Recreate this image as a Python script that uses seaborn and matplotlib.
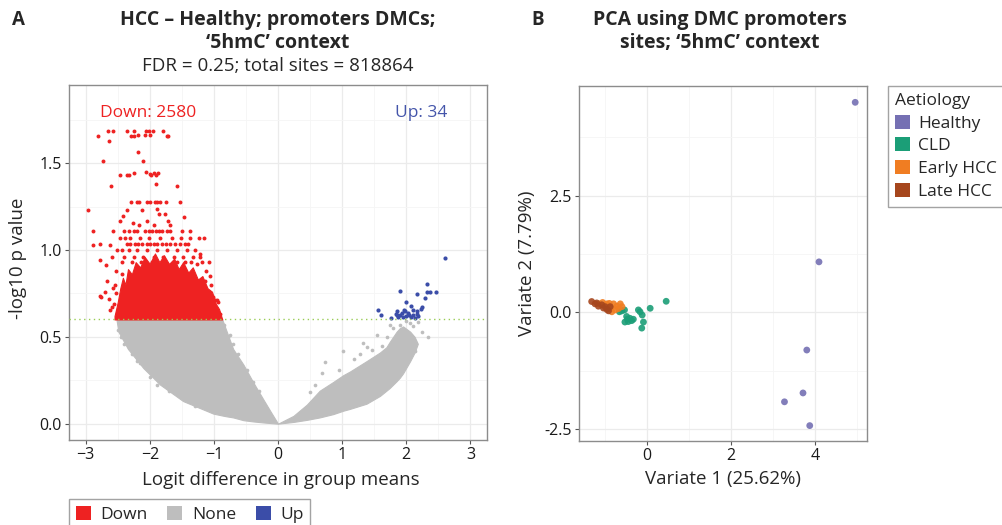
import numpy as np
import pandas as pd
import matplotlib
matplotlib.use("Agg")
import matplotlib.pyplot as plt
from matplotlib.patches import Patch
from matplotlib.ticker import MultipleLocator
import seaborn as sns

sns.set_theme(style="white")
plt.rcParams['font.family'] = ['Open Sans', 'DejaVu Sans']

# ---------------- volcano (A) ----------------
fdr_cut = 0.6  # -log10 p threshold line

# grey cloud (non significant sites), read as envelopes
none_left_x = [-2.52, -2.49, -2.34, -2.10, -1.84, -1.48, -1.01, -0.87, -0.80, -0.70, -0.54, -0.39, -0.23, -0.10, 0.0]
none_left_lo = [0.60, 0.53, 0.43, 0.32, 0.225, 0.13, 0.058, 0.047, 0.042, 0.036, 0.02, 0.013, 0.007, 0.003, 0.0]
none_left_hi = [0.60, 0.60, 0.60, 0.60, 0.60, 0.60, 0.60, 0.60, 0.53, 0.43, 0.34, 0.24, 0.14, 0.06, 0.0]

none_right_x = [0.0, 0.24, 0.45, 0.65, 0.86, 1.02, 1.12, 1.38, 1.59, 1.69, 1.74, 1.85, 1.90, 1.95, 2.06, 2.13, 2.18]
none_right_lo = [0.0, 0.01, 0.022, 0.036, 0.055, 0.075, 0.085, 0.115, 0.16, 0.19, 0.205, 0.245, 0.265, 0.29, 0.36, 0.41, 0.46]
none_right_hi = [0.0, 0.045, 0.11, 0.19, 0.24, 0.28, 0.30, 0.36, 0.41, 0.44, 0.47, 0.53, 0.55, 0.56, 0.53, 0.50, 0.46]

# scattered grey sites around the edges of the cloud
none_x = [1.80, 1.90, 2.19, 2.34, 2.24, 2.06, 1.74, 1.33, 1.38, 1.46, 1.54, 0.73, 0.68, 1.02, 2.13,
          1.62, 1.70, 2.00, 2.10, 1.96, 1.28, 1.18, 0.95, 0.58, 0.50,
          -2.33, -2.49, -2.15, -1.89, -0.75, -0.70, -0.39,
          -2.45, -2.40, -2.28, -2.20, -2.00, -1.70, -1.30, -0.85, -0.78, -0.62, -0.48, -0.30]
none_y = [0.548, 0.567, 0.586, 0.50, 0.529, 0.577, 0.567, 0.466, 0.443, 0.424, 0.51, 0.356, 0.29, 0.42, 0.42,
          0.45, 0.50, 0.59, 0.56, 0.54, 0.40, 0.37, 0.31, 0.22, 0.18,
          0.44, 0.54, 0.347, 0.222, 0.51, 0.46, 0.24,
          0.50, 0.46, 0.40, 0.36, 0.27, 0.19, 0.10, 0.57, 0.50, 0.40, 0.31, 0.19]

# dense red core (Down)
down_core_x = [-2.55, -2.50, -2.46, -2.42, -2.38, -2.34, -2.28, -2.22, -2.15, -2.08, -2.00, -1.92, -1.85, -1.78,
               -1.70, -1.62, -1.55, -1.48, -1.40, -1.33, -1.25, -1.18, -1.10, -1.03, -0.97, -0.92, -0.87]
down_core_hi = [0.62, 0.70, 0.78, 0.84, 0.80, 0.89, 0.86, 0.93, 0.90, 0.96, 0.92, 0.98, 0.93, 0.97,
                0.92, 0.95, 0.89, 0.93, 0.87, 0.90, 0.83, 0.85, 0.78, 0.76, 0.69, 0.66, 0.60]

# sparse red points (Down)
down_x = [-2.81, -2.65, -2.57, -2.63, -2.36, -2.25, -2.29, -2.24, -2.18, -2.06, -2.02, -2.07, -2.00, -1.95, -1.80, -1.73, -1.71,
          -2.18, -2.10, -2.73,
          -2.46, -2.36, -2.32, -2.24, -2.06, -2.00, -1.98, -1.93, -1.87, -1.90,
          -2.60, -1.90, -1.58,
          -2.29, -2.20, -2.17, -2.04, -2.00, -1.92, -1.88, -1.84, -1.75, -1.53,
          -2.97, -2.42, -2.35, -2.12, -1.89, -1.86, -1.76, -1.46,
          -2.46, -2.26, -2.05, -1.71, -1.68, -1.94, -2.17,
          -2.89, -2.57, -2.41, -2.33, -2.25, -2.20, -2.07, -2.02, -1.97, -1.91, -1.86, -1.81, -1.73, -1.68, -1.50, -1.37,
          -2.88, -2.78, -2.62,
          -2.36, -2.31, -2.23, -2.18, -2.12, -2.05, -1.99, -1.94, -1.88, -1.81, -1.74, -1.68, -1.60, -1.53, -1.45, -1.40,
          -2.51, -2.43, -2.33, -2.20, -2.05, -1.89, -1.73, -1.58, -1.42, -1.29,
          -2.59, -2.41, -2.25, -2.10, -1.94, -1.79, -1.63, -1.48, -1.32, -1.21,
          -2.78, -2.68, -1.21, -1.27, -2.76, -2.63, -2.59, -0.95, -0.90,
          -2.77, -2.62, -2.49, -0.98, -0.93, -2.55, -2.52, -1.05, -1.12, -0.98, -2.50,
          -2.47, -2.39, -2.31, -2.15, -2.02, -1.84, -1.66, -1.52, -1.37, -1.24, -1.16,
          -2.44, -2.27, -2.13, -1.96, -1.77, -1.57, -1.45, -1.35, -1.19, -1.08,
          -2.53, -2.56, -2.44, -1.14, -1.06, -1.01, -0.94, -2.58, -2.66, -2.70]
down_y = [1.657, 1.684, 1.684, 1.630, 1.684, 1.684, 1.659, 1.659, 1.660, 1.684, 1.684, 1.660, 1.660, 1.684, 1.684, 1.657, 1.657,
          1.563, 1.515, 1.510,
          1.429, 1.429, 1.429, 1.445, 1.447, 1.440, 1.430, 1.445, 1.445, 1.430,
          1.370, 1.382, 1.370,
          1.276, 1.276, 1.276, 1.276, 1.276, 1.276, 1.276, 1.276, 1.276, 1.276,
          1.232, 1.194, 1.228, 1.232, 1.238, 1.209, 1.205, 1.190,
          1.167, 1.155, 1.167, 1.167, 1.142, 1.142, 1.142,
          1.107, 1.107, 1.107, 1.107, 1.107, 1.107, 1.107, 1.107, 1.107, 1.107, 1.107, 1.107, 1.107, 1.107, 1.107, 1.107,
          1.027, 1.037, 1.027,
          1.037, 1.037, 1.037, 1.037, 1.037, 1.037, 1.037, 1.037, 1.037, 1.037, 1.037, 1.037, 1.037, 1.037, 1.037, 1.037,
          0.998, 0.998, 0.998, 0.998, 0.998, 0.998, 0.998, 0.998, 0.998, 0.998,
          0.960, 0.960, 0.960, 0.960, 0.960, 0.960, 0.960, 0.960, 0.960, 0.960,
          0.940, 0.912, 0.979, 0.922, 0.730, 0.715, 0.672, 0.711, 0.634,
          0.736, 0.653, 0.620, 0.711, 0.644, 0.80, 0.88, 0.80, 0.88, 0.66, 0.65,
          1.07, 1.07, 1.07, 1.07, 1.07, 1.07, 1.07, 1.07, 1.07, 1.07, 1.07,
          0.93, 0.93, 0.93, 0.93, 0.93, 0.93, 0.93, 0.93, 0.93, 0.93,
          0.75, 0.69, 0.86, 0.82, 0.85, 0.73, 0.70, 0.78, 0.82, 0.76]

# blue points (Up)
up_x = [2.61, 2.32, 1.91, 2.33, 2.37, 2.46, 2.17, 2.29, 2.00, 2.07, 2.25, 2.23, 1.56, 1.60, 1.85, 1.84, 1.98,
        2.03, 2.11, 2.16, 1.90, 1.95, 2.08, 2.13, 1.76, 2.19, 1.87, 2.00, 2.11, 1.93, 2.05, 2.16, 1.85, 1.97]
up_y = [0.956, 0.807, 0.763, 0.757, 0.757, 0.757, 0.744, 0.721, 0.701, 0.677, 0.672, 0.659, 0.653, 0.626, 0.649, 0.634, 0.648,
        0.640, 0.653, 0.630, 0.625, 0.615, 0.615, 0.611, 0.609, 0.619, 0.615, 0.618, 0.625, 0.638, 0.627, 0.648, 0.624, 0.653]

n_down, n_up = 2580, 34

# ---------------- PCA (B) ----------------
healthy_x = [4.95, 4.09, 3.80, 3.71, 3.27, 3.87]
healthy_y = [4.50, 1.08, -0.81, -1.73, -1.92, -2.43]
cld_x = [0.46, 0.08, -0.16, -0.11, -0.20, -0.08, -0.12, -0.59, -0.65, -0.53, -0.48, -0.40, -0.52, -0.44, -0.36, -0.46, -0.32]
cld_y = [0.235, 0.085, 0.01, -0.06, 0.05, -0.21, -0.34, 0.03, 0.01, 0.05, -0.09, -0.13, -0.21, -0.20, -0.18, -0.15, -0.15]
early_x = [-1.05, -0.95, -0.79, -0.71, -0.59, -0.75, -0.83, -0.89, -0.67, -1.13, -0.85, -0.63]
early_y = [0.21, 0.18, 0.18, 0.13, 0.12, 0.05, 0.01, 0.19, 0.08, 0.18, 0.08, 0.18]
late_x = [-1.31, -1.23, -1.15, -1.03, -0.91, -0.87, -1.07, -0.95, -1.19, -0.99]
late_y = [0.23, 0.18, 0.13, 0.09, 0.03, 0.12, 0.16, 0.06, 0.20, 0.12]

groups = ['Healthy', 'CLD', 'Early HCC', 'Late HCC']
group_colors = ['#7570B3', '#1B9E77', '#F07D22', '#A6461D']

pca = pd.DataFrame({
    'v1': healthy_x + cld_x + early_x + late_x,
    'v2': healthy_y + cld_y + early_y + late_y,
    'Aetiology': (['Healthy'] * len(healthy_x) + ['CLD'] * len(cld_x)
                  + ['Early HCC'] * len(early_x) + ['Late HCC'] * len(late_x)),
})

RED, GREY, BLUE = '#EE2222', '#BEBEBE', '#3B4DA8'


def style_axes(ax, xstep, ystep):
    ax.xaxis.set_major_locator(MultipleLocator(xstep))
    ax.xaxis.set_minor_locator(MultipleLocator(xstep / 2))
    ax.yaxis.set_major_locator(MultipleLocator(ystep))
    ax.yaxis.set_minor_locator(MultipleLocator(ystep / 2))
    ax.grid(which='major', color='#EBEBEB', lw=0.9)
    ax.grid(which='minor', color='#F5F5F5', lw=0.6)
    ax.set_axisbelow(True)
    for sp in ax.spines.values():
        sp.set_color('#8C8C8C')
        sp.set_linewidth(1.0)
    ax.tick_params(which='major', bottom=True, left=True, direction='out', length=3, width=0.8,
                   color='#555555', labelsize=11.5, labelcolor='#1A1A1A', pad=2)
    ax.tick_params(which='minor', length=0)


fig = plt.figure(figsize=(10.03, 5.25), dpi=100)
ax1 = fig.add_axes([0.0688, 0.1619, 0.4168, 0.6762])
ax2 = fig.add_axes([0.5773, 0.1600, 0.2871, 0.6762])

# ---- A
ax1.fill_between(none_left_x, none_left_lo, none_left_hi, color=GREY, lw=0.8, edgecolor=GREY, zorder=2)
ax1.fill_between(none_right_x, none_right_lo, none_right_hi, color=GREY, lw=0.8, edgecolor=GREY, zorder=2)
sns.scatterplot(x=none_x, y=none_y, color=GREY, s=7, linewidth=0, ax=ax1, zorder=2)
ax1.fill_between(down_core_x, fdr_cut, down_core_hi, color=RED, lw=0.8, edgecolor=RED, zorder=3)
sns.scatterplot(x=down_x, y=down_y, color=RED, s=8, linewidth=0, ax=ax1, zorder=3)
sns.scatterplot(x=up_x, y=up_y, color=BLUE, s=9, linewidth=0, ax=ax1, zorder=3)
ax1.axhline(fdr_cut, color='#99CC55', lw=1, ls=(0, (1, 2.5)), zorder=4)

ax1.text(-2.03, 1.786, f'Down: {n_down}', color=RED, fontsize=12.5, ha='center', va='center')
ax1.text(2.24, 1.786, f'Up: {n_up}', color='#4455AA', fontsize=12.5, ha='center', va='center')

ax1.set_xlim(-3.26, 3.26)
ax1.set_ylim(-0.094, 1.95)
style_axes(ax1, 1, 0.5)
ax1.yaxis.set_major_formatter(plt.FuncFormatter(lambda v, p: f'{v:.1f}'))
ax1.set_xlabel('')
ax1.set_ylabel('')

# ---- B
sns.scatterplot(data=pca, x='v1', y='v2', hue='Aetiology', hue_order=groups,
                palette=dict(zip(groups, group_colors)), s=24, linewidth=0, alpha=0.9,
                legend=False, ax=ax2, zorder=3)
ax2.set_xlim(-1.61, 5.23)
ax2.set_ylim(-2.76, 4.85)
style_axes(ax2, 2, 2.5)
ax2.yaxis.set_major_formatter(plt.FuncFormatter(lambda v, p: f'{v:.1f}'))
ax2.set_xlabel('')
ax2.set_ylabel('')

# ---- texts
H, W = 525, 1003
def fx(px): return px / W
def fy(py): return 1 - py / H

fig.text(fx(18), fy(20), 'A', fontsize=13.5, fontweight='bold', ha='center', va='center')
fig.text(fx(538), fy(20), 'B', fontsize=13.5, fontweight='bold', ha='center', va='center')
fig.text(fx(278), fy(20), 'HCC – Healthy; promoters DMCs;', fontsize=14, fontweight='bold', ha='center', va='center')
fig.text(fx(278), fy(43), '‘5hmC’ context', fontsize=14, fontweight='bold', ha='center', va='center')
fig.text(fx(278), fy(66), 'FDR = 0.25; total sites = 818864', fontsize=13.5, ha='center', va='center')
fig.text(fx(720), fy(20), 'PCA using DMC promoters', fontsize=14, fontweight='bold', ha='center', va='center')
fig.text(fx(720), fy(43), 'sites; ‘5hmC’ context', fontsize=14, fontweight='bold', ha='center', va='center')

fig.text(fx(18), fy(258), '-log10 p value', fontsize=13.5, rotation=90, ha='center', va='center')
fig.text(fx(281), fy(480), 'Logit difference in group means', fontsize=13.5, ha='center', va='center')
fig.text(fx(527), fy(263), 'Variate 2 (7.79%)', fontsize=13.5, rotation=90, ha='center', va='center')
fig.text(fx(723), fy(479), 'Variate 1 (25.62%)', fontsize=13.5, ha='center', va='center')

# ---- legends
vol_handles = [Patch(facecolor=c, edgecolor='none') for c in (RED, GREY, BLUE)]
fig.legend(vol_handles, ['Down', 'None', 'Up'], ncol=3, loc='upper left',
           bbox_to_anchor=(fx(69), fy(499)), frameon=True, fancybox=False, edgecolor='#8C8C8C',
           fontsize=12.5, handlelength=0.85, handleheight=0.85, handletextpad=0.55, columnspacing=1.15,
           borderpad=0.4, borderaxespad=0)

pca_handles = [Patch(facecolor=c, edgecolor='none') for c in group_colors]
leg = fig.legend(pca_handles, groups, title='Aetiology', loc='upper left',
                 bbox_to_anchor=(fx(888), fy(86)), frameon=True, fancybox=False, edgecolor='#8C8C8C',
                 fontsize=12.5, title_fontsize=12.5, handlelength=0.85, handleheight=0.85, handletextpad=0.5,
                 labelspacing=0.33, borderpad=0.4, borderaxespad=0, alignment='left')

fig.savefig('out.png', dpi=100)
